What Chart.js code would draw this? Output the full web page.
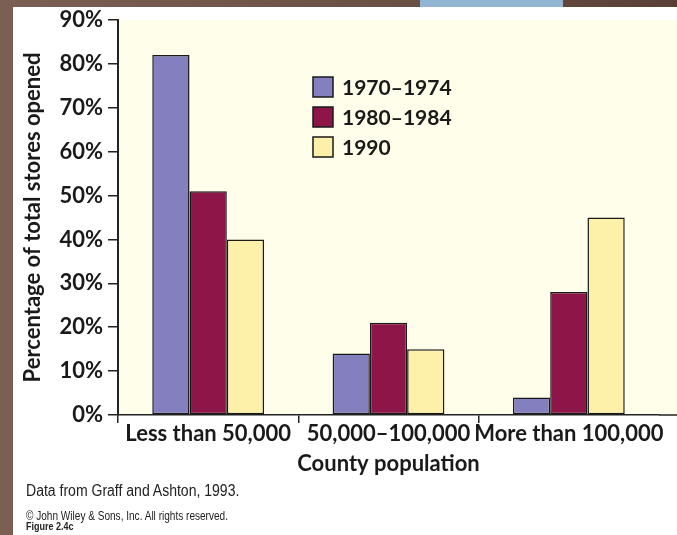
<!DOCTYPE html>
<html>
<head>
<meta charset="utf-8">
<script src="https://cdn.jsdelivr.net/npm/chart.js@4/dist/chart.umd.min.js"></script>
<style>
  body { margin: 0; width: 677px; height: 535px; overflow: hidden; background: #7b5f54; position: relative; }
  #topbar { position: absolute; left: 0; top: 0; width: 677px; height: 7px; background: linear-gradient(to right, #7b5f54, #6a4f45 60%, #5a3f36); }
  #tab { position: absolute; left: 420px; top: 0; width: 143px; height: 7px; background: #92b5d3; }
  #card { position: absolute; left: 13px; top: 7px; width: 664px; height: 528px; background: #fff; }
  #grafico { position: absolute; left: 0; top: 0; }
  .nota { position: absolute; left: 13px; color: #222; white-space: nowrap; font-family: "Liberation Sans", sans-serif; transform-origin: 0 0; }
</style>
</head>
<body>
<div id="topbar"></div>
<div id="tab"></div>
<div id="card">
  <canvas id="grafico" width="664" height="528"></canvas>
  <div class="nota" data-ancho="213" style="top:475px; font-size:16px;">Data from Graff and Ashton, 1993.</div>
  <div class="nota" data-ancho="202" style="top:502px; font-size:12.5px;">© John Wiley &amp; Sons, Inc. All rights reserved.</div>
  <div class="nota" data-ancho="47" style="top:513px; font-size:10.5px; font-weight:bold;">Figure 2.4c</div>
</div>
<script>
const categorias = ['Less than 50,000', '50,000–100,000', 'More than 100,000'];
const periodos = ['1970–1974', '1980–1984', '1990'];
const valores1970 = [82, 14, 4];
const valores1980 = [51, 21, 28];
const valores1990 = [40, 15, 45];
const colores = ['#8480c0', '#8e1548', '#fdf0a8'];
const fuente = 'Lato, "Open Sans", sans-serif';

// notas al pie estrechas, como en la figura
document.querySelectorAll('.nota').forEach(el => {
  const ancho = parseFloat(el.dataset.ancho);
  el.style.transform = 'scaleX(' + (ancho / el.offsetWidth) + ')';
});

// fondo crema del area del grafico
const fondoPlugin = {
  id: 'fondo',
  beforeDraw(chart) {
    const { ctx, chartArea } = chart;
    ctx.save();
    ctx.fillStyle = '#fefeea';
    ctx.fillRect(chartArea.left, chartArea.top, chart.width - chartArea.left, chartArea.bottom - chartArea.top);
    ctx.restore();
  },
  afterDraw(chart) {
    const { ctx, chartArea } = chart;
    ctx.save();
    ctx.strokeStyle = '#222';
    ctx.lineWidth = 1.5;
    ctx.beginPath();
    ctx.moveTo(chartArea.right, chartArea.bottom);
    ctx.lineTo(chart.width, chartArea.bottom);
    ctx.stroke();
    ctx.restore();
  }
};

// leyenda dentro del grafico
const leyendaPlugin = {
  id: 'leyenda',
  afterDraw(chart) {
    const ctx = chart.ctx;
    ctx.save();
    chart.data.datasets.forEach((ds, i) => {
      const y = 80 + i * 30;
      ctx.fillStyle = ds.backgroundColor;
      ctx.fillRect(300, y - 10, 20, 20);
      ctx.strokeStyle = '#1a1a1a';
      ctx.lineWidth = 1.5;
      ctx.strokeRect(300, y - 10, 20, 20);
      ctx.fillStyle = '#1a1a1a';
      ctx.font = 'bold 21px ' + fuente;
      ctx.textBaseline = 'middle';
      ctx.fillText(ds.label, 329, y + 1);
    });
    ctx.restore();
  }
};

const series = [valores1970, valores1980, valores1990];
const datasets = series.map((valores, i) => ({
  label: periodos[i],
  data: valores,
  backgroundColor: colores[i],
  borderColor: '#1a1a1a',
  borderWidth: 1.5,
  borderSkipped: false,
  categoryPercentage: 0.62,
  barPercentage: 1.0
}));

const ctx = document.getElementById('grafico').getContext('2d');
new Chart(ctx, {
  type: 'bar',
  data: { labels: categorias, datasets: datasets },
  plugins: [fondoPlugin, leyendaPlugin],
  options: {
    responsive: false,
    animation: false,
    layout: { padding: { left: 0, right: 18, top: 13, bottom: 45 } },
    plugins: { legend: { display: false }, tooltip: { enabled: false } },
    scales: {
      x: {
        afterFit: scale => { scale.height = 75; },
        grid: {
          drawOnChartArea: false,
          tickLength: 8,
          tickColor: c => c.type === 'tick' ? '#222' : 'rgba(0,0,0,0)',
          lineWidth: 1.5
        },
        border: { display: true, color: '#222', width: 1.5 },
        ticks: {
          color: '#1a1a1a',
          padding: -2,
          maxRotation: 0,
          minRotation: 0,
          autoSkip: false,
          font: { family: fuente, size: 22, weight: 'bold' }
        },
        title: {
          display: true,
          text: 'County population',
          color: '#1a1a1a',
          padding: { top: 13, bottom: 13 },
          font: { family: fuente, size: 22, weight: 'bold' }
        }
      },
      y: {
        min: 0,
        max: 90,
        afterFit: scale => {
          scale.width = 105;
          scale.paddingTop = 0;
          scale.paddingBottom = 0;
        },
        grid: { drawOnChartArea: false, tickLength: 10, tickColor: '#222', lineWidth: 1.5 },
        border: { display: true, color: '#222', width: 2 },
        ticks: {
          stepSize: 10,
          padding: 5,
          color: '#1a1a1a',
          font: { family: fuente, size: 22, weight: 'bold' },
          callback: v => v + '%'
        },
        title: {
          display: true,
          text: 'Percentage of total stores opened',
          color: '#1a1a1a',
          padding: { top: 7, bottom: 0 },
          font: { family: fuente, size: 22, weight: 'bold' }
        }
      }
    }
  }
});
</script>
</body>
</html>
